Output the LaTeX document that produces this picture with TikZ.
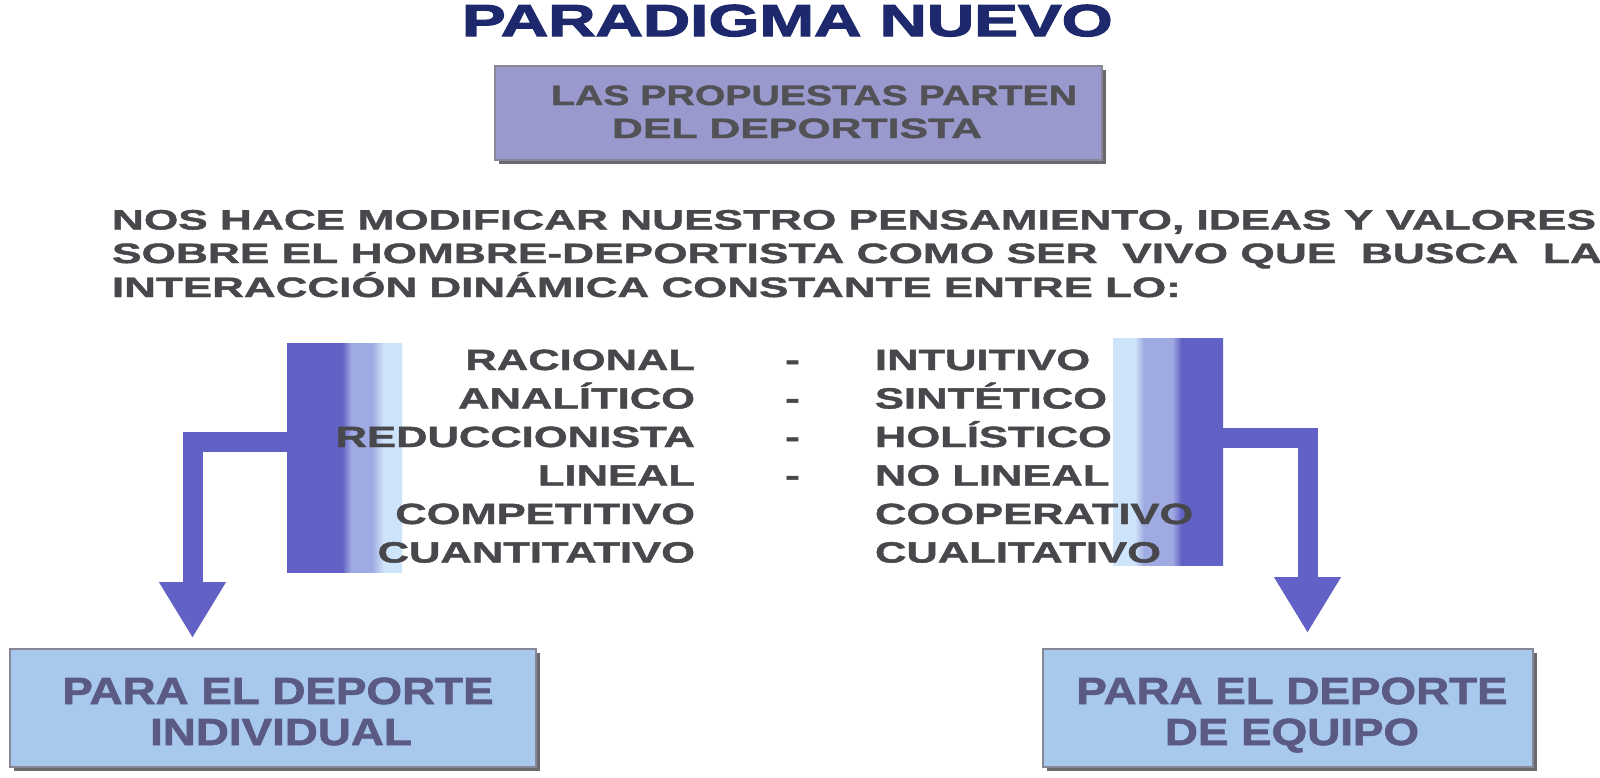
\documentclass[tikz,border=0pt]{standalone}
\usepackage{fontspec}
\usepackage{graphicx}
\usetikzlibrary{arrows.meta}
\newfontfamily\titlef[FakeStretch=1.47,FakeBold=3]{Liberation Sans}
\newfontfamily\boxf[FakeStretch=1.36,FakeBold=1.6]{Liberation Sans}
\newfontfamily\bodyf[FakeStretch=1.57,FakeBold=1.6]{Liberation Sans}
\newfontfamily\listf[FakeStretch=1.49,FakeBold=1.6]{Liberation Sans}
\newfontfamily\btmf[FakeStretch=1.21,FakeBold=1.8]{Liberation Sans}
\definecolor{titlecol}{RGB}{30,40,108}
\definecolor{textgray}{RGB}{72,72,76}
\definecolor{barblue}{RGB}{98,98,198}
\definecolor{barmid}{RGB}{160,170,226}
\definecolor{barlight}{RGB}{206,228,250}
\definecolor{box1fill}{RGB}{153,153,206}
\definecolor{box1text}{RGB}{82,82,86}
\definecolor{boxfill}{RGB}{168,200,238}
\definecolor{boxtext}{RGB}{90,90,132}
\definecolor{boxedge}{RGB}{135,135,150}
\definecolor{shadowcol}{RGB}{105,105,110}
\pgfdeclarehorizontalshading{barLshade}{100bp}{color(0bp)=(barblue); color(49bp)=(barblue); color(53bp)=(barmid); color(62bp)=(barmid); color(67bp)=(barlight); color(100bp)=(barlight)}
\pgfdeclarehorizontalshading{barRshade}{100bp}{color(0bp)=(barlight); color(35bp)=(barlight); color(39bp)=(barmid); color(52bp)=(barmid); color(56bp)=(barblue); color(100bp)=(barblue)}
\begin{document}
\begin{tikzpicture}[x=0.5pt,y=-0.5pt,
  txt/.style={inner sep=0pt,outer sep=0pt},
  shadowed/.style={preaction={draw=none,fill=shadowcol,transform canvas={xshift=2pt,yshift=-2pt}}},
  topbox/.style={shadowed,draw=boxedge,line width=1pt,fill=box1fill,minimum width=303.5pt,minimum height=47pt,inner sep=0pt},
  btmbox/.style={shadowed,draw=boxedge,line width=1pt,fill=boxfill,minimum height=59pt,inner sep=0pt},
  bartall/.style={inner sep=0pt,outer sep=0pt,shade},
  bodytxt/.style={txt,anchor=base west,text=textgray,font=\bodyf\bfseries\fontsize{14pt}{16pt}\selectfont},
  listtxt/.style={txt,text=textgray,font=\listf\bfseries\fontsize{14.6pt}{16pt}\selectfont},
  boxtxt/.style={txt,anchor=base west,text=box1text,font=\boxf\bfseries\fontsize{14pt}{16pt}\selectfont},
  btmtxt/.style={txt,anchor=base,text=boxtext,font=\btmf\bfseries\fontsize{18.9pt}{20pt}\selectfont},
  titletxt/.style={txt,anchor=base west,font=\titlef\bfseries\fontsize{22.3pt}{24pt}\selectfont},
  blockarr/.style={draw=barblue,line width=10pt,-{Triangle[length=28pt,width=31.5pt,fill=barblue]}}
]
\useasboundingbox[fill=white] (0,0) rectangle (1600,777);
% title
\node[titletxt,text=titlecol] (title) at (462,36) {PARADIGMA NUEVO};
% premise box
\node[topbox] (premise) at (798.5,113) {};
\node[boxtxt] (premise1) at (551,105) {\resizebox{263pt}{\height}{LAS PROPUESTAS PARTEN}};
\node[boxtxt] (premise2) at (612,138) {\resizebox{185pt}{\height}{DEL DEPORTISTA}};
% body text
\node[bodytxt] (body1) at (112,229.5) {\resizebox{742pt}{\height}{NOS HACE MODIFICAR NUESTRO PENSAMIENTO, IDEAS Y VALORES}};
\node[bodytxt] (body2) at (112,263) {\resizebox{745pt}{\height}{SOBRE EL HOMBRE-DEPORTISTA COMO SER\ \ VIVO QUE\ \ BUSCA\ \ LA}};
\node[bodytxt] (body3) at (112,297) {INTERACCIÓN DINÁMICA CONSTANTE ENTRE LO:};
% bars
\node[bartall,minimum width=57.5pt,minimum height=114.5pt,shading=barLshade] (barL) at (344.5,457.5) {};
\node[bartall,minimum width=55pt,minimum height=113.5pt,shading=barRshade] (barR) at (1168,451.5) {};
% lists
\foreach \t [count=\i from 0] in {RACIONAL,ANALÍTICO,REDUCCIONISTA,LINEAL,COMPETITIVO,CUANTITATIVO}
  \node[listtxt,anchor=base east] (left\i) at (695,{370+38.5*\i}) {\t};
\foreach \i in {0,...,3}
  \node[listtxt,anchor=base] (dash\i) at (792.5,{370+38.5*\i}) {-};
\foreach \t [count=\i from 0] in {INTUITIVO,SINTÉTICO,HOLÍSTICO,NO LINEAL,COOPERATIVO,CUALITATIVO}
  \node[listtxt,anchor=base west] (right\i) at (875,{370+38.5*\i}) {\t};
% bottom boxes
\node[btmbox,minimum width=263pt] (boxL) at (273,708) {};
\node[btmbox,minimum width=245pt] (boxR) at (1288,708) {};
\node[btmtxt] (boxL1) at (278,704) {PARA EL DEPORTE};
\node[btmtxt] (boxL2) at (281,745) {INDIVIDUAL};
\node[btmtxt] (boxR1) at (1292,704) {PARA EL DEPORTE};
\node[btmtxt] (boxR2) at (1292,745) {DE EQUIPO};
% arrows
\coordinate (yL) at (0,442);
\coordinate (yR) at (0,437.5);
\coordinate (tipL) at (192.5,638);
\coordinate (tipR) at (1307.5,633);
\draw[blockarr] (barL.west |- yL) -| (tipL);
\draw[blockarr] (barR.east |- yR) -| (tipR);
\end{tikzpicture}
\end{document}
